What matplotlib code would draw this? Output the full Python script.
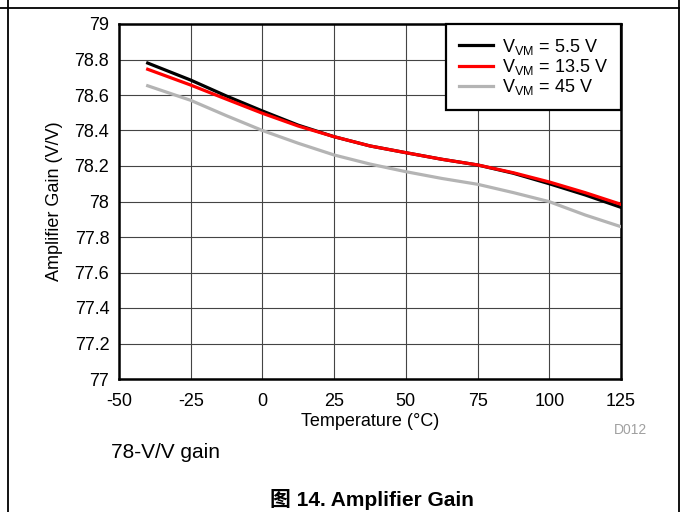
import matplotlib
matplotlib.use("Agg")
import matplotlib.pyplot as plt
from matplotlib.lines import Line2D

plt.rcParams['font.family'] = ['Liberation Sans', 'Noto Sans CJK SC', 'DejaVu Sans']
plt.rcParams['mathtext.fontset'] = 'custom'
plt.rcParams['mathtext.rm'] = 'Liberation Sans'

# Data
temperature = [-40, -25, -12.5, 0, 12.5, 25, 37.5, 50, 62.5, 75, 87.5, 100, 112.5, 125]
gain_5v5 = [78.78, 78.684, 78.594, 78.51, 78.43, 78.365, 78.313, 78.275, 78.238, 78.206, 78.159, 78.10, 78.037, 77.967]
gain_13v5 = [78.745, 78.656, 78.576, 78.497, 78.425, 78.365, 78.313, 78.275, 78.238, 78.206, 78.162, 78.11, 78.05, 77.984]
gain_45v = [78.652, 78.57, 78.483, 78.40, 78.328, 78.262, 78.211, 78.168, 78.13, 78.097, 78.05, 77.999, 77.924, 77.858]
series_labels = [r'V$_{\mathregular{VM}}$ = 5.5 V', r'V$_{\mathregular{VM}}$ = 13.5 V', r'V$_{\mathregular{VM}}$ = 45 V']
series_colors = ['#000000', '#ff0000', '#b4b4b4']
x_ticks = [-50, -25, 0, 25, 50, 75, 100, 125]
y_ticks = [77, 77.2, 77.4, 77.6, 77.8, 78, 78.2, 78.4, 78.6, 78.8, 79]
y_ticklabels = ['77', '77.2', '77.4', '77.6', '77.8', '78', '78.2', '78.4', '78.6', '78.8', '79']

W, H = 681, 512
fig = plt.figure(figsize=(W / 100, H / 100), dpi=100)
ax_l, ax_r, ax_t, ax_b = 119, 621, 24, 379
ax = fig.add_axes([ax_l / W, 1 - ax_b / H, (ax_r - ax_l) / W, (ax_b - ax_t) / H])

for y, lab, col in zip([gain_5v5, gain_13v5, gain_45v], series_labels, series_colors):
    ax.plot(temperature, y, color=col, lw=2.3, label=lab, zorder=3)

ax.set_xlim(-50, 125)
ax.set_ylim(77, 79)
ax.set_xticks(x_ticks)
ax.set_xticklabels([str(t) for t in x_ticks])
ax.set_yticks(y_ticks)
ax.set_yticklabels(y_ticklabels)
ax.tick_params(length=0, labelsize=13)
ax.tick_params(axis='x', pad=10)
ax.tick_params(axis='y', pad=7)
ax.grid(True, color='#444444', lw=0.8)
ax.set_axisbelow(True)
for s in ax.spines.values():
    s.set_linewidth(1.8)
    s.set_color('black')

ax.set_xlabel('Temperature (°C)', fontsize=13, labelpad=2)
ax.set_ylabel('Amplifier Gain (V/V)', fontsize=13, labelpad=8)

leg = ax.legend(loc='upper right', bbox_to_anchor=(1, 1), borderaxespad=0,
                fontsize=13, handlelength=1.9, handletextpad=0.5,
                labelspacing=0.02, borderpad=0.7, fancybox=False,
                framealpha=1, edgecolor='black')
leg.get_frame().set_linewidth(1.6)
for lh in leg.get_lines():
    lh.set_linewidth(2.3)

fig.text(647 / W, 1 - 430 / H, 'D012', fontsize=10, color='#a0a0a0', ha='right', va='center')
fig.text(111 / W, 1 - 453 / H, '78-V/V gain', fontsize=15, ha='left', va='center')
fig.text(372 / W, 1 - 500 / H, '图 14. Amplifier Gain', fontsize=15, fontweight='bold',
         ha='center', va='center')

# outer page frame lines
fig.add_artist(Line2D([0, 678.5 / W], [1 - 8 / H, 1 - 8 / H], transform=fig.transFigure, color='black', lw=1.3))
fig.add_artist(Line2D([7.5 / W, 7.5 / W], [0, 1], transform=fig.transFigure, color='black', lw=1.3))
fig.add_artist(Line2D([678.5 / W, 678.5 / W], [0, 1], transform=fig.transFigure, color='black', lw=1.3))

fig.savefig('out.png', dpi=100)
